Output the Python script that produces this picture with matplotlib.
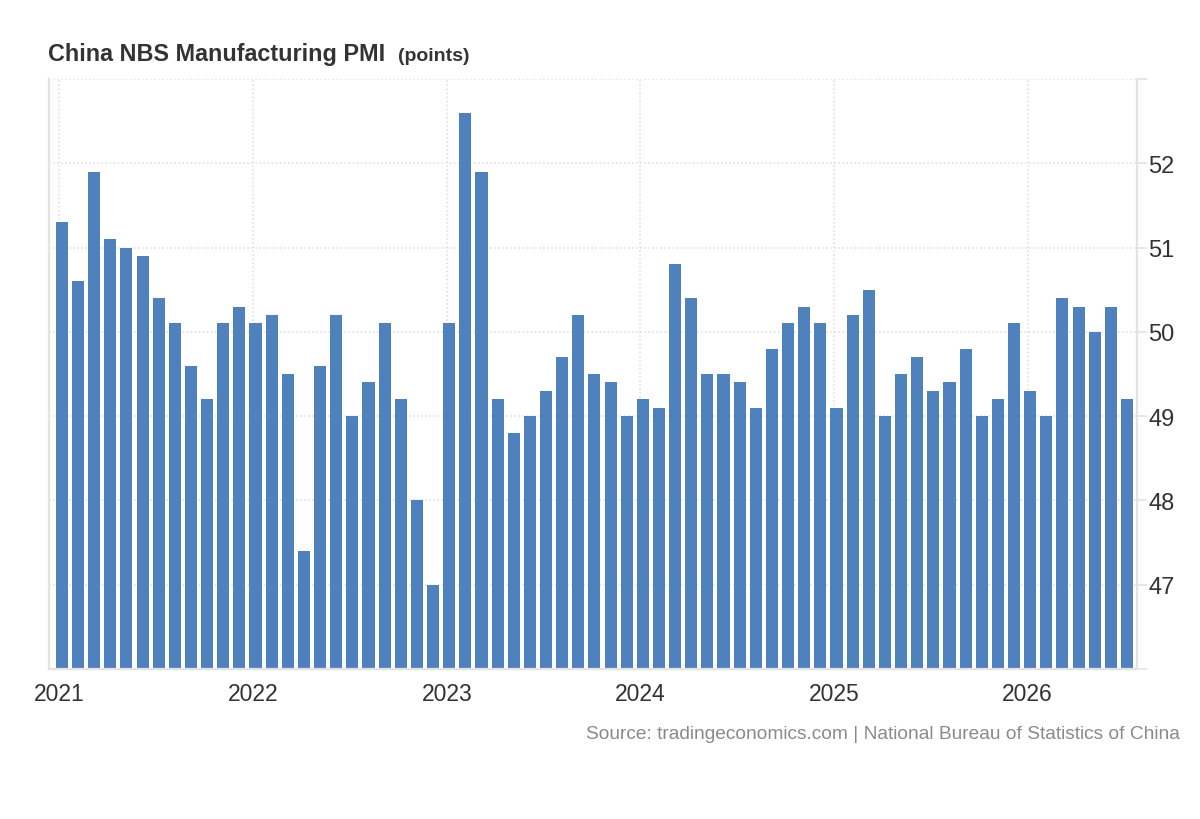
import matplotlib
matplotlib.use('Agg')
import matplotlib.pyplot as plt
import numpy as np

plt.rcParams['font.family'] = ['Liberation Sans', 'DejaVu Sans']

# monthly NBS manufacturing PMI, Jan 2021 .. Jul 2026
years = ['2021', '2022', '2023', '2024', '2025', '2026']
pmi_2021 = [51.3, 50.6, 51.9, 51.1, 51.0, 50.9, 50.4, 50.1, 49.6, 49.2, 50.1, 50.3]
pmi_2022 = [50.1, 50.2, 49.5, 47.4, 49.6, 50.2, 49.0, 49.4, 50.1, 49.2, 48.0, 47.0]
pmi_2023 = [50.1, 52.6, 51.9, 49.2, 48.8, 49.0, 49.3, 49.7, 50.2, 49.5, 49.4, 49.0]
pmi_2024 = [49.2, 49.1, 50.8, 50.4, 49.5, 49.5, 49.4, 49.1, 49.8, 50.1, 50.3, 50.1]
pmi_2025 = [49.1, 50.2, 50.5, 49.0, 49.5, 49.7, 49.3, 49.4, 49.8, 49.0, 49.2, 50.1]
pmi_2026 = [49.3, 49.0, 50.4, 50.3, 50.0, 50.3, 49.2]
y_ticks = [46, 47, 48, 49, 50, 51, 52, 53]

values = pmi_2021 + pmi_2022 + pmi_2023 + pmi_2024 + pmi_2025 + pmi_2026
x = np.arange(len(values))
base = 46

fig = plt.figure(figsize=(12, 8.2), dpi=100)
ax = fig.add_axes([0.0408, 0.1829, 0.9067, 0.7195])

ax.bar(x, np.array(values) - base, bottom=base, width=0.75, color='#4f81bd', zorder=2)

ax.set_xlim(-0.8, len(values) - 0.38)
ax.set_ylim(46, 53)

# January positions for year ticks
jan_pos = [12 * i - 0.15 for i in range(len(years))]
ax.set_xticks(jan_pos)
ax.set_xticklabels(years, fontsize=16.5, color='#333333')
ax.tick_params(axis='x', length=0, pad=9)

ax.yaxis.tick_right()
ax.set_yticks(y_ticks)
ax.set_yticklabels(['' if (t == 46 or t == 53) else str(t) for t in y_ticks],
                   fontsize=17, color='#333333')
ax.tick_params(axis='y', length=7.5, width=1.2, color='#e3e3e3', pad=0.5, right=True)

ax.grid(True, axis='both', linestyle=':', color='#dcdcdc', linewidth=1.1, zorder=0)
ax.set_axisbelow(True)

for side in ['left', 'right', 'bottom']:
    ax.spines[side].set_color('#e3e3e3')
    ax.spines[side].set_linewidth(1.6)
ax.spines['top'].set_visible(False)

# title
t1 = fig.text(0.040, 0.926, 'China NBS Manufacturing PMI', fontsize=16.8,
              fontweight='bold', color='#333333', va='baseline')
fig.canvas.draw()
bb = t1.get_window_extent()
fig.text(bb.x1 / fig.bbox.width + 0.011, 0.926, '(points)', fontsize=14,
         fontweight='bold', color='#333333', va='baseline')

fig.text(0.983, 0.099, 'Source: tradingeconomics.com | National Bureau of Statistics of China',
         fontsize=13.8, color='#8a8a8a', ha='right', va='baseline')

fig.savefig('out.png', dpi=100)
